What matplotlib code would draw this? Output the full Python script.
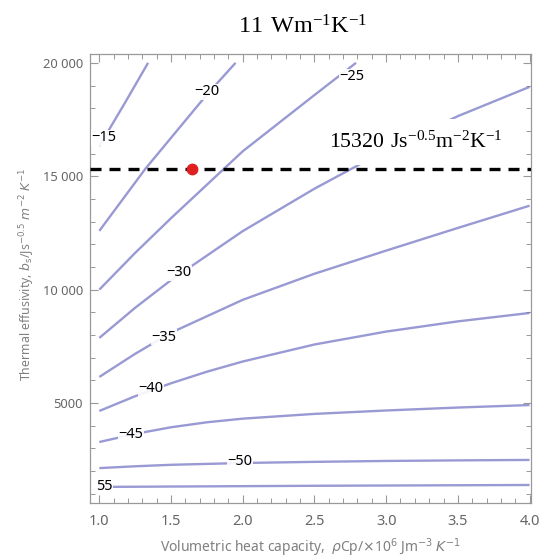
import matplotlib
matplotlib.use("Agg")
import matplotlib.pyplot as plt
from matplotlib.ticker import FixedLocator, MultipleLocator

plt.rcParams['font.family'] = ['Noto Sans', 'DejaVu Sans']

# contour lines (x: rho*Cp /1e6, y: effusivity)
levels = [-15, -20, -25, -30, -35, -40, -45, -50, -55]
c15_x = [1.0, 1.18, 1.34]
c15_y = [16330, 18250, 20000]
c20_x = [1.0, 1.32, 1.75, 1.95]
c20_y = [12590, 15320, 18600, 20000]
c25_x = [1.0, 1.25, 1.5, 2.0, 2.5, 2.79]
c25_y = [10000, 11620, 13150, 16100, 18580, 20000]
c30_x = [1.0, 1.25, 1.5, 2.0, 2.5, 3.0, 3.5, 4.0]
c30_y = [7870, 9200, 10420, 12580, 14450, 16150, 17650, 18940]
c35_x = [1.0, 1.25, 1.5, 2.0, 2.5, 3.0, 3.5, 4.0]
c35_y = [6150, 7170, 8100, 9550, 10700, 11720, 12720, 13700]
c40_x = [1.0, 1.25, 1.5, 1.75, 2.0, 2.5, 3.0, 3.5, 4.0]
c40_y = [4650, 5300, 5870, 6380, 6830, 7580, 8150, 8600, 8970]
c45_x = [1.0, 1.25, 1.5, 1.75, 2.0, 2.5, 3.0, 3.5, 4.0]
c45_y = [3280, 3640, 3930, 4150, 4310, 4520, 4670, 4800, 4910]
c50_x = [1.0, 1.25, 1.5, 2.0, 2.5, 3.0, 3.5, 4.0]
c50_y = [2130, 2210, 2275, 2355, 2405, 2445, 2470, 2490]
c55_x = [1.0, 2.5, 4.0]
c55_y = [1300, 1350, 1385]
lines_x = [c15_x, c20_x, c25_x, c30_x, c35_x, c40_x, c45_x, c50_x, c55_x]
lines_y = [c15_y, c20_y, c25_y, c30_y, c35_y, c40_y, c45_y, c50_y, c55_y]

# contour labels
label_text = ["\u221215", "\u221220", "\u221225", "\u221230", "\u221235",
              "\u221240", "\u221245", "\u221250", "55"]
label_x = [1.033, 1.752, 2.76, 1.557, 1.451, 1.36, 1.221, 1.981, 1.036]
label_y = [16690, 18720, 19400, 10740, 7910, 5620, 3630, 2400, 1300]

b_ref = 15320
point_x = 1.645
xticks = [1.0, 1.5, 2.0, 2.5, 3.0, 3.5, 4.0]
xtick_labels = ["1.0", "1.5", "2.0", "2.5", "3.0", "3.5", "4.0"]
yticks = [5000, 10000, 15000, 20000]
ytick_labels = ["5000", "10 000", "15 000", "20 000"]

fig = plt.figure(figsize=(5.39, 5.58), dpi=100)
ax = fig.add_axes([90 / 539, 1 - 502.7 / 558, 441 / 539, 448.7 / 558])

for xs, ys in zip(lines_x, lines_y):
    ax.plot(xs, ys, color='#7272c4', lw=1.7, alpha=0.72, solid_capstyle='butt', zorder=2)

for t, lx, ly in zip(label_text, label_x, label_y):
    ax.text(lx, ly, t, fontsize=10.5, color='black', ha='center', va='center', zorder=4,
            bbox=dict(facecolor='white', edgecolor='none', pad=0.2, alpha=0.9))

ax.axhline(b_ref, color='black', lw=2.4, linestyle=(0, (3.3, 2.4)), zorder=5)
ax.plot([point_x], [b_ref], 'o', color='#e02020', markersize=7.5, zorder=6)

ax.text(2.60, 16500, r"$\mathregular{15320\ Js^{-0.5}m^{-2}K^{-1}}$", fontsize=15.7,
        family='Liberation Serif', ha='left', va='center', zorder=3,
        bbox=dict(facecolor='white', edgecolor='none', pad=9))

ax.set_xlim(0.935, 4.01)
ax.set_ylim(604, 20390)

ax.xaxis.set_major_locator(FixedLocator(xticks))
ax.set_xticklabels(xtick_labels)
ax.xaxis.set_minor_locator(MultipleLocator(0.1))
ax.yaxis.set_major_locator(FixedLocator(yticks))
ax.set_yticklabels(ytick_labels)
ax.yaxis.set_minor_locator(MultipleLocator(1000))
ax.tick_params(which='both', direction='in', top=True, right=True, color='#999999',
               labelcolor='#666666')
ax.tick_params(which='major', length=6, width=0.8)
ax.tick_params(which='minor', length=3.5, width=0.7)
ax.tick_params(axis='x', pad=8, labelsize=10.5)
ax.tick_params(axis='y', pad=5, labelsize=9.3)
for s in ax.spines.values():
    s.set_color('#999999')
    s.set_linewidth(0.9)

fig.text(303 / 539, 1 - 27 / 558, r"$\mathregular{11\ Wm^{-1}K^{-1}}$", fontsize=17.5,
         family='Liberation Serif', ha='center', va='center')
fig.text(310.5 / 539, 1 - 548 / 558,
         r"Volumetric heat capacity,  $\rho$Cp/$\times$10$^{6}$ Jm$^{-3}$ $K^{-1}$",
         fontsize=10, color='#808080', ha='center', va='center')
fig.text(27 / 539, 1 - 274 / 558,
         r"Thermal effusivity, $b_{\mathrm{s}}$/Js$^{-0.5}$ $m^{-2}$ $K^{-1}$",
         fontsize=8.9, color='#808080', ha='center', va='center', rotation=90)

fig.savefig("out.png", dpi=100)
